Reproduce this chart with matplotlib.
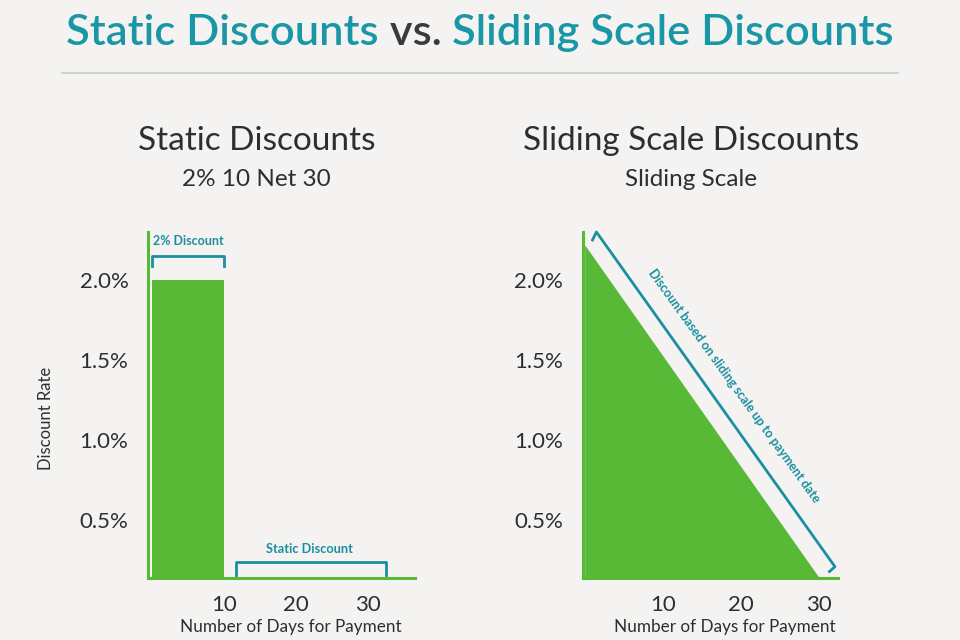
import matplotlib.pyplot as plt

# data
bar_days = [0, 10]
bar_rate = 2.0
slide_days = [0, 30]
slide_rate = [2.22, 0.14]
yticks = [0.5, 1.0, 1.5, 2.0]
ytick_labels = ['0.5%', '1.0%', '1.5%', '2.0%']
xticks = [10, 20, 30]

bg = '#f4f3f1'
green = '#57b936'
teal = '#1b8fa0'
title_teal = '#1a97a6'
dark = '#2e2e2e'

plt.rcParams['font.family'] = ['Lato', 'DejaVu Sans']

fig = plt.figure(figsize=(9.6, 6.4), dpi=100, facecolor=bg)
fig.canvas.draw()
r = fig.canvas.get_renderer()

# main title, three pieces laid out side by side and centred
parts = [('Static Discounts', title_teal), (' vs. ', '#3a3a3a'), ('Sliding Scale Discounts', title_teal)]
texts = [fig.text(0, 0.948, s, color=c, fontsize=31.3, ha='left', va='center', fontweight='semibold')
         for s, c in parts]
widths = [t.get_window_extent(r).width for t in texts]
x = (960 - sum(widths)) / 2
for t, w in zip(texts, widths):
    t.set_x(x / 960)
    x += w


def style_axes(ax, xmin, xmax):
    ax.set_facecolor(bg)
    for s in ['top', 'right']:
        ax.spines[s].set_visible(False)
    for s in ['left', 'bottom']:
        ax.spines[s].set_color(green)
        ax.spines[s].set_linewidth(2.2)
    ax.set_xlim(xmin, xmax)
    ax.set_ylim(0.14, 2.3)
    ax.set_yticks(yticks)
    ax.set_yticklabels(ytick_labels)
    ax.set_xticks(xticks)
    ax.tick_params(length=0, labelsize=16, colors=dark, pad=12)
    ax.tick_params(axis='y', pad=14)
    ax.set_xlabel('Number of Days for Payment', fontsize=12.3, color=dark)


ax1 = fig.add_axes([0.154, 0.097, 0.278, 0.5405])
ax2 = fig.add_axes([0.607, 0.097, 0.266, 0.5405])
style_axes(ax1, -0.56, 36.5)
style_axes(ax2, -0.25, 32.4)
ax1.xaxis.set_label_coords(0.536, -0.12)
ax2.xaxis.set_label_coords(0.557, -0.12)
ax1.set_ylabel('Discount Rate', fontsize=12, color=dark)
ax1.yaxis.set_label_coords(-0.35, 0.462)

# static bar
ax1.fill_between(bar_days, 0, bar_rate, color=green, lw=0)
# sliding triangle
ax2.fill_between(slide_days, 0, slide_rate, color=green, lw=0)

# brackets left
ax1.plot([0.0, 0.0, 10.0, 10.0], [2.09, 2.15, 2.15, 2.09], color=teal, lw=2, clip_on=False)
ax1.text(5.0, 2.245, '2% Discount', color=teal, fontsize=9, ha='center', va='center',
         fontweight='bold')
ax1.plot([11.7, 11.7, 32.5, 32.5], [0.156, 0.2375, 0.2375, 0.156], color=teal, lw=2, clip_on=False)
ax1.text(21.9, 0.32, 'Static Discount', color=teal, fontsize=9.2, ha='center', va='center',
         fontweight='bold')

# diagonal bracket right
ax2.plot([1.0, 1.5, 32.0, 31.3], [2.25, 2.3, 0.21, 0.18], color=teal, lw=2, clip_on=False)
ax2.text(19.1, 1.34, 'Discount based on sliding scale up to payment date', color=teal,
         fontsize=9, ha='center', va='center', rotation=-54.2, rotation_mode='anchor',
         fontweight='bold')

# subtitles
fig.text(0.267, 0.78, 'Static Discounts', fontsize=24, color=dark, ha='center', va='center')
fig.text(0.267, 0.72, '2% 10 Net 30', fontsize=17.5, color=dark, ha='center', va='center')
fig.text(0.72, 0.78, 'Sliding Scale Discounts', fontsize=24, color=dark, ha='center', va='center')
fig.text(0.72, 0.72, 'Sliding Scale', fontsize=17.5, color=dark, ha='center', va='center')

# rule
fig.add_artist(plt.Line2D([0.065, 0.935], [0.886, 0.886], color='#c9c9c9', lw=1.2))

fig.savefig('out.png', dpi=100, facecolor=bg)
